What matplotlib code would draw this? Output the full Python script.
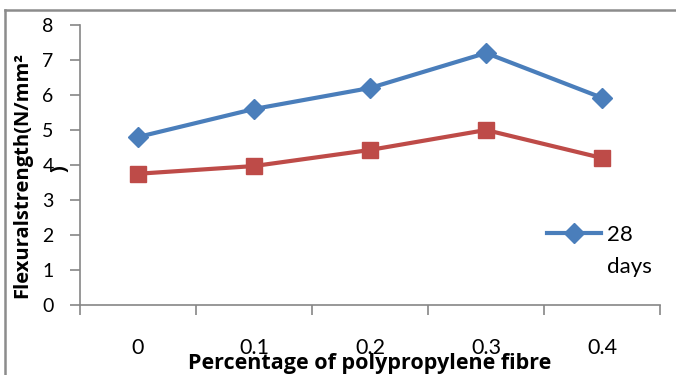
import matplotlib
matplotlib.use("Agg")
import matplotlib.pyplot as plt
from matplotlib.lines import Line2D
from matplotlib.ticker import FixedLocator

categories = ["0", "0.1", "0.2", "0.3", "0.4"]
days28 = [4.8, 5.6, 6.2, 7.2, 5.92]
days7 = [3.75, 3.97, 4.43, 5.0, 4.2]
yticks = [0, 1, 2, 3, 4, 5, 6, 7, 8]

plt.rcParams['font.family'] = ['Lato', 'DejaVu Sans']
label_font = ['Open Sans', 'DejaVu Sans']

fig = plt.figure(figsize=(6.76, 3.75), dpi=100)
ax = fig.add_axes([80/676, 1-305/375, (660-80)/676, (305-25)/375])

x = list(range(len(categories)))
ax.plot(x, days28, color='#4A7EBB', lw=3, marker='D', ms=10, label='28\ndays')
ax.plot(x, days7, color='#BE4B48', lw=3, marker='s', ms=12, label='_nolegend_')

ax.set_xlim(-0.5, len(categories)-0.5)
ax.set_ylim(0, 8)
ax.set_yticks(yticks)
ax.set_xticks(x)
ax.set_xticklabels(categories)
ax.xaxis.set_minor_locator(FixedLocator([i-0.5 for i in range(len(categories)+1)]))

axis_col = '#868686'
for s in ['top', 'right']:
    ax.spines[s].set_visible(False)
for s in ['left', 'bottom']:
    ax.spines[s].set_color(axis_col)
    ax.spines[s].set_linewidth(1.2)

ax.tick_params(axis='y', direction='out', length=7, width=1.2, color=axis_col,
               labelsize=14, pad=12, labelcolor='black')
ax.tick_params(axis='x', which='major', length=0, labelsize=15.5, pad=24)
ax.tick_params(axis='x', which='minor', direction='out', length=7, width=1.2, color=axis_col)

ax.set_xlabel('Percentage of polypropylene fibre', fontsize=15.5, fontweight='bold',
              family=label_font)
ax.xaxis.set_label_coords(0.5, (305-369)/280)
ax.xaxis.label.set_va('baseline')

# y label wraps in the original: main line plus a closing bracket on a second line
ax.set_ylabel('Flexuralstrength(N/mm²', fontsize=14.5, fontweight='bold',
              family=label_font)
ax.yaxis.set_label_coords((22-80)/580, 0.5 - 10/280)
ax.yaxis.label.set_va('center')
ax.text((60-80)/580, (305-169)/280, ')', transform=ax.transAxes, rotation=90,
        fontsize=14.5, fontweight='bold', family=label_font,
        ha='center', va='center', rotation_mode='anchor')

leg = ax.legend(loc='upper left', bbox_to_anchor=((547-80)/580, (305-225)/280),
                frameon=False, fontsize=16, handlelength=2.45, handletextpad=0.25,
                borderaxespad=0, borderpad=0)
for col in leg._legend_handle_box.get_children():
    for hp in col.get_children():
        hp.align = 'top'
for t in leg.get_texts():
    t.set_linespacing(1.75)

frame_col = '#8c8c8c'
fig.add_artist(Line2D([5/676, 1.0], [1-10/375, 1-10/375], color=frame_col, lw=1.8,
                      transform=fig.transFigure))
fig.add_artist(Line2D([5/676, 5/676], [0, 1-10/375], color=frame_col, lw=1.8,
                      transform=fig.transFigure))

fig.savefig('out.png', dpi=100)
